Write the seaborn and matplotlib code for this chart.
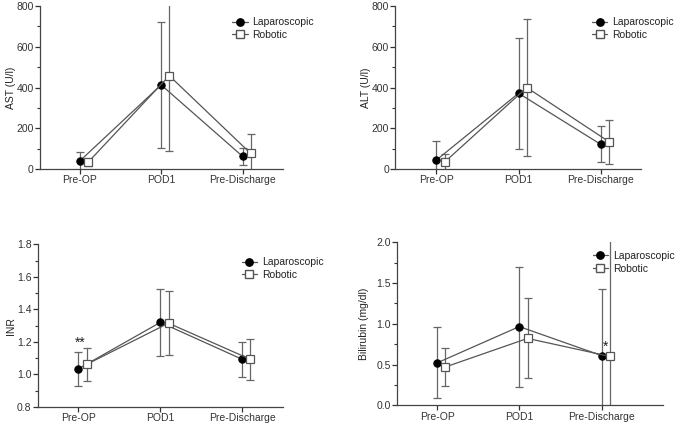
import numpy as np
import pandas as pd
import matplotlib
matplotlib.use("Agg")
import matplotlib.pyplot as plt
from matplotlib.ticker import MultipleLocator
from matplotlib.lines import Line2D
import seaborn as sns

# time points
timepoints = ["Pre-OP", "POD1", "Pre-Discharge"]
groups = ["Laparoscopic", "Robotic"]

# means and SDs
ast_lap = [40, 413, 63]
ast_lap_sd = [42, 308, 42]
ast_rob = [33, 458, 77]
ast_rob_sd = [18, 370, 96]

alt_lap = [45, 372, 122]
alt_lap_sd = [92, 272, 88]
alt_rob = [35, 400, 135]
alt_rob_sd = [38, 335, 108]

inr_lap = [1.035, 1.32, 1.093]
inr_lap_sd = [0.105, 0.208, 0.109]
inr_rob = [1.062, 1.315, 1.093]
inr_rob_sd = [0.101, 0.198, 0.126]

bili_lap = [0.52, 0.965, 0.61]
bili_lap_sd = [0.435, 0.735, 0.82]
bili_rob = [0.47, 0.82, 0.60]
bili_rob_sd = [0.228, 0.49, 1.6]

sns.set_theme(style="ticks")
plt.rcParams['font.family'] = ['Liberation Sans', 'DejaVu Sans']
plt.rcParams['text.color'] = '#222222'
plt.rcParams['axes.labelcolor'] = '#222222'
plt.rcParams['xtick.color'] = '#333333'
plt.rcParams['ytick.color'] = '#333333'

fig = plt.figure(figsize=(6.76, 4.24), dpi=100)

LINE = '#555555'
ERR = '#666666'
FS = 7.5
MS = 5.3

panels = [
    dict(pos=[0.059, 0.601, 0.360, 0.385], lap=ast_lap, lap_sd=ast_lap_sd, rob=ast_rob, rob_sd=ast_rob_sd,
         ylabel="AST (U/l)", ylim=(0, 800), major=200, minor=100, fmt="{:.0f}", xlim=(-0.49, 2.5),
         leg=(0.79, 0.93), lpad=0.5),
    dict(pos=[0.585, 0.601, 0.363, 0.385], lap=alt_lap, lap_sd=alt_lap_sd, rob=alt_rob, rob_sd=alt_rob_sd,
         ylabel="ALT (U/l)", ylim=(0, 800), major=200, minor=100, fmt="{:.0f}", xlim=(-0.5, 2.49),
         leg=(0.80, 0.93), lpad=0.5),
    dict(pos=[0.056, 0.040, 0.363, 0.384], lap=inr_lap, lap_sd=inr_lap_sd, rob=inr_rob, rob_sd=inr_rob_sd,
         ylabel="INR", ylim=(0.8, 1.8), major=0.2, minor=0.1, fmt="{:.1f}", xlim=(-0.495, 2.5),
         leg=(0.83, 0.92), lpad=0.5),
    dict(pos=[0.587, 0.044, 0.394, 0.385], lap=bili_lap, lap_sd=bili_lap_sd, rob=bili_rob, rob_sd=bili_rob_sd,
         ylabel="Bilirubin (mg/dl)", ylim=(0, 2.0), major=0.5, minor=0.25, fmt="{:.1f}", xlim=(-0.49, 2.75),
         leg=(0.735, 0.945), lpad=5),
]

x = np.arange(len(timepoints))
offset = 0.1

for p in panels:
    ax = fig.add_axes(p["pos"])
    df = pd.DataFrame({
        "x": np.concatenate([x, x + offset]),
        "value": p["lap"] + p["rob"],
        "group": [groups[0]] * 3 + [groups[1]] * 3,
    })
    # error bars
    ax.errorbar(x, p["lap"], yerr=p["lap_sd"], fmt='none', ecolor=ERR, elinewidth=0.9,
                capsize=3, capthick=0.9, zorder=1)
    ax.errorbar(x + offset, p["rob"], yerr=p["rob_sd"], fmt='none', ecolor=ERR, elinewidth=0.9,
                capsize=3, capthick=0.9, zorder=1)
    # lines + markers
    sns.lineplot(data=df, x="x", y="value", hue="group", style="group",
                 palette={groups[0]: LINE, groups[1]: LINE},
                 markers={groups[0]: 'o', groups[1]: 's'}, dashes=False,
                 linewidth=0.9, legend=False, ax=ax, zorder=2)
    for ln in ax.get_lines():
        if ln.get_marker() == 'o':
            ln.set_markerfacecolor('black'); ln.set_markeredgecolor('black'); ln.set_markersize(MS)
        elif ln.get_marker() == 's':
            ln.set_markerfacecolor('white'); ln.set_markeredgecolor(LINE); ln.set_markersize(MS)
            ln.set_markeredgewidth(0.9)
            ln.set_zorder(3)

    ax.set_xlim(*p["xlim"])
    ax.set_ylim(*p["ylim"])
    ax.set_xticks(x)
    ax.set_xticklabels(timepoints, fontsize=FS)
    ax.yaxis.set_minor_locator(MultipleLocator(p["minor"]))
    yt = np.arange(p["ylim"][0], p["ylim"][1] + p["major"] / 2, p["major"])
    ax.set_yticks(yt)
    ax.set_yticklabels([p["fmt"].format(v) for v in yt], fontsize=FS)
    ax.set_xlabel("")
    ax.set_ylabel(p["ylabel"], fontsize=FS, labelpad=p["lpad"])
    sns.despine(ax=ax)
    for s in ["left", "bottom"]:
        ax.spines[s].set_color('#444444')
        ax.spines[s].set_linewidth(0.9)
    ax.tick_params(axis='both', which='major', length=3.5, width=0.9, pad=1)
    ax.tick_params(axis='y', which='minor', length=2, width=0.8)

    handles = [
        Line2D([], [], color=LINE, lw=0.9, marker='o', markerfacecolor='black',
               markeredgecolor='black', markersize=MS),
        Line2D([], [], color=LINE, lw=0.9, marker='s', markerfacecolor='white',
               markeredgecolor=LINE, markersize=MS),
    ]
    ax.legend(handles, groups, loc='upper left', bbox_to_anchor=p["leg"], frameon=False,
              fontsize=FS, handlelength=1.5, handletextpad=0.45, labelspacing=0.25,
              borderaxespad=0, borderpad=0)
    p["ax"] = ax

# significance markers
panels[2]["ax"].text(0.02, 1.15, "**", ha='center', va='bottom', fontsize=10)
panels[3]["ax"].text(2.05, 0.63, "*", ha='center', va='bottom', fontsize=10)

fig.savefig("out.png", dpi=100)
